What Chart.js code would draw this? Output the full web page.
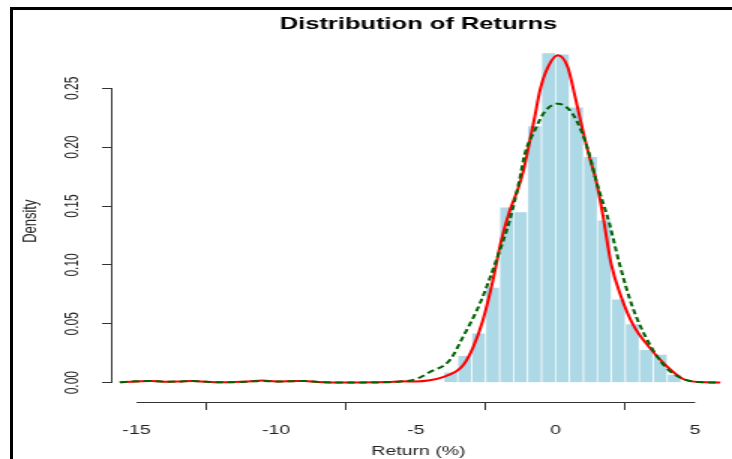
<!DOCTYPE html>
<html>
<head>
<meta charset="utf-8">
<script src="https://cdn.jsdelivr.net/npm/chart.js@4/dist/chart.umd.min.js"></script>
<style>
  html, body { margin: 0; padding: 0; background: #fff; overflow: hidden; }
  #wrap { position: relative; width: 732px; height: 459px; }
  /* the reference is stretched sideways, so the canvas is drawn narrow and scaled */
  #chartCanvas { position: absolute; left: 0; top: 0; transform: scaleX(1.5); transform-origin: 0 0; }
  #frame { position: absolute; left: 10px; top: 7px; width: 730px; height: 460px;
           border-left: 3px solid #000; border-top: 3px solid #000; pointer-events: none; }
</style>
</head>
<body>
<div id="wrap">
  <canvas id="chartCanvas" width="488" height="459"></canvas>
  <div id="frame"></div>
</div>
<script>
// ------- Data -------
// histogram bins (width 0.5), centres and densities
const binCenters = [-3.75, -3.25, -2.75, -2.25, -1.75, -1.25, -0.75, -0.25, 0.25, 0.75, 1.25, 1.75, 2.25, 2.75, 3.25, 3.75, 4.25];
const binDensity = [0.009, 0.023, 0.042, 0.081, 0.149, 0.145, 0.218, 0.280, 0.279, 0.234, 0.192, 0.138, 0.071, 0.050, 0.028, 0.024, 0.007];

// kernel density (red, solid)
const kdeX = [-15.6, -15, -14.5, -14, -13.5, -13, -12.5, -12, -11.5, -11, -10.5, -10, -9.5, -9, -8.5, -8, -7.5, -7, -6.5, -6, -5.5, -5, -4.5, -4, -3.6, -3.3, -2.95, -2.6, -2.24, -1.94, -1.64, -1.35, -1.15, -0.95, -0.75, -0.55, -0.27, 0.08, 0.44, 0.68, 0.92, 1.21, 1.45, 1.69, 1.99, 2.35, 2.76, 3.36, 3.95, 4.55, 5.14, 5.9];
const kdeY = [0.0003, 0.001, 0.0015, 0.0008, 0.001, 0.0015, 0.0008, 0.0003, 0.0005, 0.001, 0.0018, 0.001, 0.0012, 0.0015, 0.0005, 0.0002, 0.0002, 0.0002, 0.0003, 0.0005, 0.0012, 0.001, 0.002, 0.005, 0.009, 0.015, 0.030, 0.053, 0.087, 0.121, 0.146, 0.164, 0.180, 0.202, 0.225, 0.249, 0.268, 0.278, 0.268, 0.245, 0.220, 0.192, 0.172, 0.143, 0.101, 0.073, 0.050, 0.030, 0.0147, 0.0034, 0.0005, 0.0001];

// normal fit (dark green, dashed)
const normX = [-15.6, -15, -14.5, -14, -13.5, -13, -12.5, -12, -11, -10.5, -10, -9.5, -9, -8.5, -8, -7, -6, -5.5, -5, -4.5, -3.79, -3.31, -2.71, -2.12, -1.64, -1.29, -1.1, -0.75, -0.39, 0.08, 0.56, 0.92, 1.21, 1.45, 1.93, 2.29, 2.76, 3.36, 3.95, 4.55, 5.14, 5.9];
const normY = [0.0003, 0.0012, 0.0015, 0.0008, 0.001, 0.0015, 0.0008, 0.0003, 0.0008, 0.0015, 0.001, 0.0012, 0.0015, 0.0005, 0.0002, 0.0002, 0.0004, 0.001, 0.003, 0.009, 0.019, 0.039, 0.067, 0.104, 0.138, 0.172, 0.194, 0.214, 0.230, 0.237, 0.230, 0.214, 0.194, 0.172, 0.135, 0.101, 0.064, 0.033, 0.013, 0.0034, 0.0005, 0.0001];

const xTicks = [-15, -10, -5, 0, 5];
const yTicks = [0, 0.05, 0.10, 0.15, 0.20, 0.25];

const FONT = "'Liberation Sans', Arial, Helvetica, sans-serif";
const AXIS_COLOR = "#333";

// ------- Helpers -------
const toPoints = (xs, ys) => xs.map((x, i) => ({ x: x, y: ys[i] }));

// R style axis lines: only from first to last tick
const rAxisLines = {
  id: "rAxisLines",
  afterLayout(chart) {
    // centre the main title over the plot region, like R does
    if (chart.titleBlock) {
      chart.titleBlock.left = chart.chartArea.left;
      chart.titleBlock.right = chart.chartArea.right;
    }
  },
  afterDraw(chart) {
    const { ctx, chartArea, scales } = chart;
    const xs = scales.x, ys = scales.y;
    ctx.save();
    ctx.strokeStyle = AXIS_COLOR;
    ctx.lineWidth = 1;
    ctx.beginPath();
    ctx.moveTo(xs.getPixelForValue(xTicks[0]), chartArea.bottom + 0.5);
    ctx.lineTo(xs.getPixelForValue(xTicks[xTicks.length - 1]), chartArea.bottom + 0.5);
    ctx.moveTo(chartArea.left - 0.5, ys.getPixelForValue(yTicks[0]));
    ctx.lineTo(chartArea.left - 0.5, ys.getPixelForValue(yTicks[yTicks.length - 1]));
    ctx.stroke();
    ctx.restore();
  }
};

// ------- Chart -------
const ctx = document.getElementById("chartCanvas").getContext("2d");
new Chart(ctx, {
  type: "bar",
  data: {
    datasets: [
      {
        type: "line",
        label: "Normal",
        data: toPoints(normX, normY),
        borderColor: "#006400",
        borderWidth: 2,
        borderDash: [5, 3],
        pointRadius: 0,
        cubicInterpolationMode: "monotone",
        order: 1
      },
      {
        type: "line",
        label: "Density",
        data: toPoints(kdeX, kdeY),
        borderColor: "#ff0000",
        borderWidth: 2,
        pointRadius: 0,
        cubicInterpolationMode: "monotone",
        order: 2
      },
      {
        type: "bar",
        label: "Histogram",
        data: toPoints(binCenters, binDensity),
        backgroundColor: "#add8e6",
        borderColor: "#ffffff",
        borderWidth: 0.7,
        barPercentage: 1,
        categoryPercentage: 1,
        order: 3
      }
    ]
  },
  options: {
    responsive: false,
    animation: false,
    layout: { padding: { left: 0, right: 5, top: 0, bottom: 0 } },
    plugins: {
      legend: { display: false },
      tooltip: { enabled: false },
      title: {
        display: true,
        text: "Distribution of Returns",
        color: "#000",
        font: { family: FONT, size: 17, weight: "bold" },
        padding: { top: 14, bottom: 6 }
      }
    },
    scales: {
      x: {
        type: "linear",
        min: -15.86,
        max: 6.05,
        offset: false,
        afterBuildTicks: (s) => { s.ticks = xTicks.map((v) => ({ value: v })); },
        afterFit: (s) => { s.height = 57; },
        border: { display: false },
        grid: { drawOnChartArea: false, drawTicks: true, tickLength: 8, color: AXIS_COLOR },
        ticks: { color: "#222", font: { family: FONT, size: 13 }, padding: 13, maxRotation: 0 },
        title: {
          display: true,
          text: "Return (%)",
          color: "#222",
          font: { family: FONT, size: 13 },
          padding: { top: 0, bottom: 0 }
        }
      },
      y: {
        min: -0.0164,
        max: 0.2907,
        afterBuildTicks: (s) => { s.ticks = yTicks.map((v) => ({ value: v })); },
        afterFit: (s) => { s.width = 75; },
        border: { display: false },
        grid: { drawOnChartArea: false, drawTicks: true, tickLength: 7, color: AXIS_COLOR },
        ticks: {
          color: "#222",
          font: { family: FONT, size: 12 },
          minRotation: 90,
          maxRotation: 90,
          crossAlign: "center",
          padding: 8,
          callback: (v) => Number(v).toFixed(2)
        },
        title: {
          display: true,
          text: "Density",
          color: "#222",
          font: { family: FONT, size: 13 },
          padding: { top: 13, bottom: 0 }
        }
      }
    }
  },
  plugins: [rAxisLines]
});
</script>
</body>
</html>
